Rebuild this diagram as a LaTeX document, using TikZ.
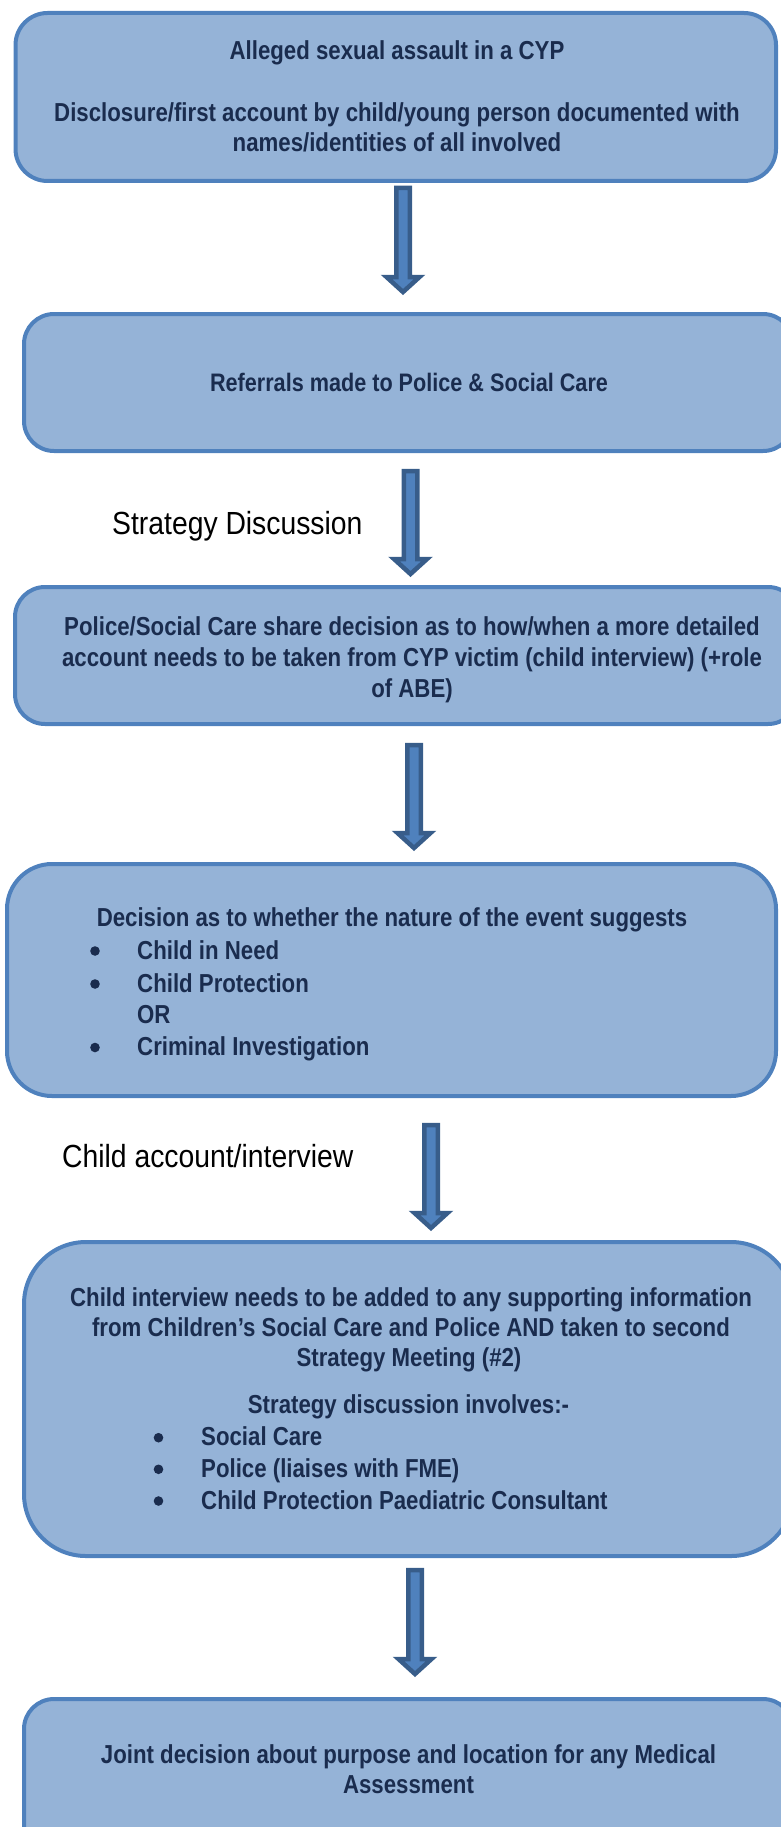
\documentclass[tikz,border=0pt]{standalone}
\usepackage{fontspec}
\setmainfont{Liberation Sans}
\newfontfamily\boxfont[FakeStretch=0.855]{Liberation Sans}
\newfontfamily\labelfont[FakeStretch=0.885]{Liberation Sans}
\definecolor{boxfill}{HTML}{95B3D7}
\definecolor{boxline}{HTML}{4F81BD}
\definecolor{arrfill}{HTML}{4F81BD}
\definecolor{arrline}{HTML}{385D8A}
\definecolor{txtcol}{HTML}{1A2C4E}
\tikzset{
  flowbox/.style={draw=boxline, fill=boxfill, line width=4pt},
  boxtxt/.style={font=\boxfont\bfseries\fontsize{26}{31}\selectfont, text=txtcol, inner sep=0pt, text height=18pt, text depth=0pt},
  sidelabel/.style={font=\labelfont\fontsize{32}{38}\selectfont, text=black, inner sep=0pt, anchor=base west},
  barrow/.style={fill=arrfill, draw=arrline, line width=4.5pt, line join=miter},
  bulletdot/.style={fill=txtcol, draw=none}
}
\newcommand\blockarrow[2]{%
  \draw[barrow] ([xshift=-6.75pt]#1) -- ([xshift=6.75pt]#1) -- ([xshift=6.75pt,yshift=15pt]#2)
    -- ([xshift=16.5pt,yshift=15pt]#2) -- (#2) -- ([xshift=-16.5pt,yshift=15pt]#2)
    -- ([xshift=-6.75pt,yshift=15pt]#2) -- cycle;}
\begin{document}
\begin{tikzpicture}[x=1pt,y=-1pt]
\useasboundingbox (0,0) rectangle (781,1827);
% boxes
\draw[flowbox, rounded corners=32pt] (15.5,13) rectangle (776,181);
\coordinate (b1) at (396,97);
\draw[flowbox, rounded corners=30pt] (24,314) rectangle (793,451);
\coordinate (b2) at (409,382);
\draw[flowbox, rounded corners=30pt] (15,587) rectangle (798,724);
\coordinate (b3) at (410,655);
\draw[flowbox, rounded corners=45pt] (7,864) rectangle (776,1096);
\coordinate (b4) at (392,980);
\draw[flowbox, rounded corners=62pt] (24,1242) rectangle (793,1556);
\coordinate (b5) at (409,1400);
\draw[flowbox, rounded corners=30pt] (24,1699) rectangle (793,1880);
\coordinate (b6) at (409,1770);
% box 1 text
\node[boxtxt] (t1a) at (397,51) {Alleged sexual assault in a CYP};
\node[boxtxt] (t1b) at (397,113) {Disclosure/first account by child/young person documented with};
\node[boxtxt] (t1c) at (397,143) {names/identities of all involved};
% box 2 text
\node[boxtxt, font=\boxfont\bfseries\fontsize{25.3}{31}\selectfont] (t2a) at (409,382.5) {Referrals made to Police \& Social Care};
% box 3 text
\node[boxtxt] (t3a) at (412,626) {Police/Social Care share decision as to how/when a more detailed};
\node[boxtxt] (t3b) at (412,657) {account needs to be taken from CYP victim (child interview) (+role};
\node[boxtxt] (t3c) at (412,688) {of ABE)};
% box 4 text
\node[boxtxt] (t4a) at (392,917.5) {Decision as to whether the nature of the event suggests};
\node[boxtxt, anchor=west] (t4b) at (137,950) {Child in Need};
\node[boxtxt, anchor=west] (t4c) at (137,983) {Child Protection};
\node[boxtxt, anchor=west] (t4d) at (137,1014) {OR};
\node[boxtxt, anchor=west] (t4e) at (137,1046.5) {Criminal Investigation};
\fill[bulletdot] (95,951) circle (4.8);
\fill[bulletdot] (95,984) circle (4.8);
\fill[bulletdot] (95,1047.5) circle (4.8);
% box 5 text
\node[boxtxt] (t5a) at (411,1297.7) {Child interview needs to be added to any supporting information};
\node[boxtxt] (t5b) at (411,1327.7) {from Children’s Social Care and Police AND taken to second};
\node[boxtxt] (t5c) at (409,1357.7) {Strategy Meeting (\#2)};
\node[boxtxt] (t5d) at (408.5,1404) {Strategy discussion involves:-};
\node[boxtxt, anchor=west] (t5e) at (201,1436.7) {Social Care};
\node[boxtxt, anchor=west] (t5f) at (201,1468.3) {Police (liaises with FME)};
\node[boxtxt, anchor=west] (t5g) at (201,1500) {Child Protection Paediatric Consultant};
\fill[bulletdot] (158.5,1437.7) circle (4.8);
\fill[bulletdot] (158.5,1469.3) circle (4.8);
\fill[bulletdot] (158.5,1501) circle (4.8);
% box 6 text
\node[boxtxt] (t6a) at (408.5,1754) {Joint decision about purpose and location for any Medical};
\node[boxtxt] (t6b) at (408.5,1784) {Assessment};
% side labels
\node[sidelabel] (l1) at (112,534) {Strategy Discussion};
\node[sidelabel] (l2) at (62,1167) {Child account/interview};
% arrows
\coordinate (a1s) at (403,188);   \coordinate (a1e) at (403,292);
\coordinate (a2s) at (410.5,471); \coordinate (a2e) at (410.5,574);
\coordinate (a3s) at (414,745);   \coordinate (a3e) at (414,848);
\coordinate (a4s) at (431,1125);  \coordinate (a4e) at (431,1228);
\coordinate (a5s) at (415,1570);  \coordinate (a5e) at (415,1674);
\blockarrow{a1s}{a1e}
\blockarrow{a2s}{a2e}
\blockarrow{a3s}{a3e}
\blockarrow{a4s}{a4e}
\blockarrow{a5s}{a5e}
\end{tikzpicture}
\end{document}
